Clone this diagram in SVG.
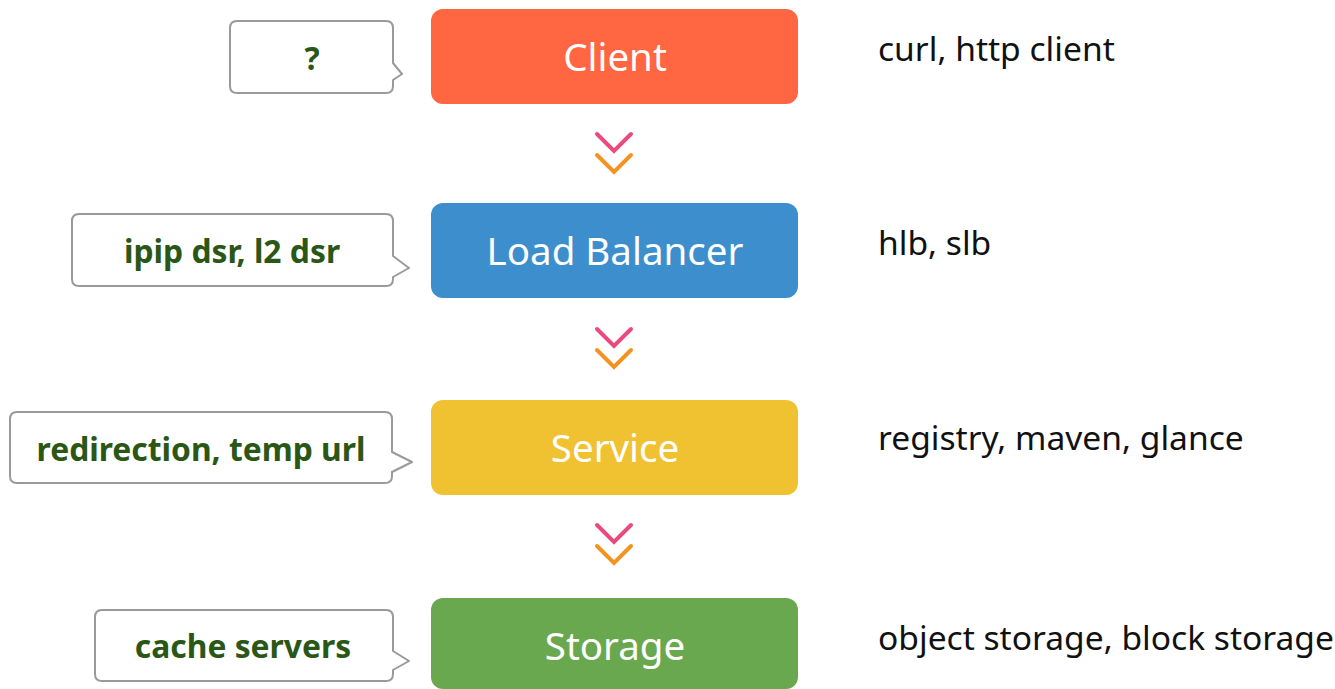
<svg xmlns="http://www.w3.org/2000/svg" width="1335" height="689" viewBox="0 0 1335 689">
<defs>
<style>
.node text{font-family:"Noto Sans","Open Sans",sans-serif;font-size:38.5px;fill:#ffffff;text-anchor:middle}
.note{fill:#ffffff;stroke:#9a9a9a;stroke-width:2;stroke-linejoin:round}
.nt{font-family:"Noto Sans","Open Sans",sans-serif;font-size:31.8px;font-weight:bold;fill:#2a5716;text-anchor:middle}
.side{font-family:"Noto Sans","Open Sans",sans-serif;font-size:33.6px;fill:#111111}
.pink{fill:none;stroke:#ea4a7d;stroke-width:4;stroke-linecap:round;stroke-linejoin:miter}
.orange{fill:none;stroke:#f39322;stroke-width:4;stroke-linecap:round;stroke-linejoin:miter}
</style>
</defs>
<rect width="1335" height="689" fill="#ffffff"/>

<g id="client" class="node">
<rect x="431" y="9" width="367" height="95" rx="12" fill="#ff6641"/>
<text x="615" y="71">Client</text>
</g>
<g id="loadbalancer" class="node">
<rect x="431" y="203" width="367" height="95" rx="12" fill="#3d8ecd"/>
<text x="615" y="265">Load Balancer</text>
</g>
<g id="service" class="node">
<rect x="431" y="400" width="367" height="95" rx="12" fill="#f0c232"/>
<text x="615" y="462">Service</text>
</g>
<g id="storage" class="node">
<rect x="431" y="598" width="367" height="91" rx="12" fill="#6aa84f"/>
<text x="615" y="660">Storage</text>
</g>

<g id="note-client">
<path class="note" d="M237,21 H386 Q393,21 393,28 V63 L402,74 L393,80 V86 Q393,93 386,93 H237 Q230,93 230,86 V28 Q230,21 237,21 Z"/>
<text class="nt" x="312" y="70">?</text>
</g>
<g id="note-lb">
<path class="note" d="M79,214 H386 Q393,214 393,221 V256 L409,268 L393,277 V279 Q393,286 386,286 H79 Q72,286 72,279 V221 Q72,214 79,214 Z"/>
<text class="nt" x="232" y="263">ipip dsr, l2 dsr</text>
</g>
<g id="note-service">
<path class="note" d="M17,412 H385 Q392,412 392,419 V452 L412,462 L392,472 V476 Q392,483 385,483 H17 Q10,483 10,476 V419 Q10,412 17,412 Z"/>
<text class="nt" x="201" y="461">redirection, temp url</text>
</g>
<g id="note-storage">
<path class="note" d="M102,610 H386 Q393,610 393,617 V651 L409,661 L393,670 V674 Q393,681 386,681 H102 Q95,681 95,674 V617 Q95,610 102,610 Z"/>
<text class="nt" x="243" y="658">cache servers</text>
</g>

<g id="side-labels">
<text class="side" x="878" y="61">curl, http client</text>
<text class="side" x="878" y="255">hlb, slb</text>
<text class="side" x="878" y="450">registry, maven, glance</text>
<text class="side" x="878" y="650">object storage, block storage</text>
</g>

<g id="connectors">
<polyline class="pink" points="597,134 614,151 631,134"/>
<polyline class="orange" points="597,155 614,172 631,155"/>
<polyline class="pink" points="597,329 614,346 631,329"/>
<polyline class="orange" points="597,350 614,367 631,350"/>
<polyline class="pink" points="597,525 614,542 631,525"/>
<polyline class="orange" points="597,546 614,563 631,546"/>
</g>
</svg>
